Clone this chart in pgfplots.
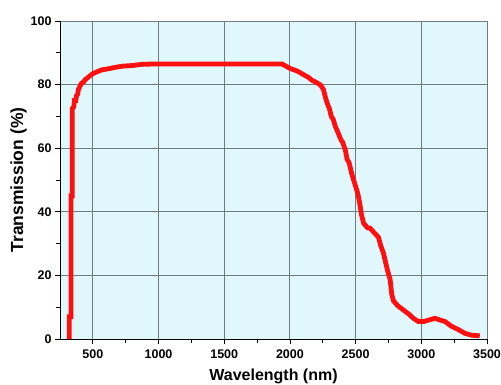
\documentclass[border=0pt]{standalone}
\usepackage{pgfplots}
\pgfplotsset{compat=1.18}
\usepackage{fontspec}
\setmainfont{Liberation Sans}
\definecolor{bgc}{HTML}{E0F7FB}
\definecolor{gridc}{HTML}{6F7D82}
\definecolor{curve}{HTML}{FF1010}
\begin{document}
\begin{tikzpicture}
\begin{axis}[
  name=ax,
  width=427bp, height=318bp, scale only axis,
  xmin=250, xmax=3500, ymin=0, ymax=100,
  xtick={500,1000,...,3500}, ytick={0,20,...,100},
  minor x tick num=1, minor y tick num=1,
  axis x line*=bottom, axis y line*=left,
  axis line style={-, black, line width=1pt},
  tick align=outside,
  major tick length=5bp, minor tick length=3.5bp,
  every tick/.style={black, line width=0.8pt},
  grid=major,
  major grid style={gridc, line width=0.9pt},
  axis background/.style={fill=bgc},
  /pgf/number format/assume math mode=true,
  /pgf/number format/1000 sep={},
  ticklabel style={font=\fontsize{12.5bp}{14bp}\selectfont\bfseries},
  xticklabel style={yshift=-2bp},
  xlabel={Wavelength (nm)},
  ylabel={Transmission (\%)},
  xlabel style={font=\fontsize{16bp}{18bp}\selectfont\bfseries, yshift=-3.5bp},
  ylabel style={font=\fontsize{17.5bp}{20bp}\selectfont\bfseries, yshift=-3bp},
  clip=false,
]
\addplot[color=curve, line width=4.8bp, line join=miter] coordinates {
(320,0)(320,7)(333,7)(333,45)(343,45)(343,72.5)(355,73)(360,75)(370,75)(376,76.5)(385,77)
(390,78.5)(402,79.5)(415,80.5)(430,80.8)(440,81.5)(470,82.5)(502,83.5)(530,84)(566,84.6)
(620,85)(680,85.5)(727,85.8)(800,86)(880,86.4)(1000,86.5)(1200,86.5)(1400,86.5)
(1600,86.5)(1800,86.5)(1940,86.5)(1970,85.8)(2000,85.1)(2040,84.5)(2068,84)
(2100,83.2)(2140,82.3)(2167,81.4)(2200,80.7)(2232,79.9)(2255,78.5)(2270,76)
(2285,74)(2300,72.5)(2315,70)(2330,69)(2346,66.8)(2360,65.5)(2370,64.5)(2390,62.5)(2400,62)(2422,59.4)(2435,56.5)(2450,55.5)
(2470,52)(2485,50)(2500,48)(2515,46)(2530,43)(2545,39)(2561,36.4)(2590,35)
(2611,34.8)(2640,33.5)(2674,32)(2690,29.5)(2712,27)(2740,22)(2763,18.6)
(2775,14)(2788,12)(2820,10.5)(2851,9.5)(2900,8)(2940,6.5)(2977,5.5)(3020,5.5)
(3060,6)(3104,6.5)(3140,6)(3180,5.5)(3230,4)(3280,3)(3331,1.8)(3380,1.2)(3445,1)
};
\coordinate (tl) at (rel axis cs:0,1);
\coordinate (br) at (rel axis cs:1,0);
\end{axis}
\pgfresetboundingbox
\path[use as bounding box] ([xshift=-60bp,yshift=21bp]tl) rectangle ([xshift=14bp,yshift=-46bp]br);
\end{tikzpicture}
\end{document}
